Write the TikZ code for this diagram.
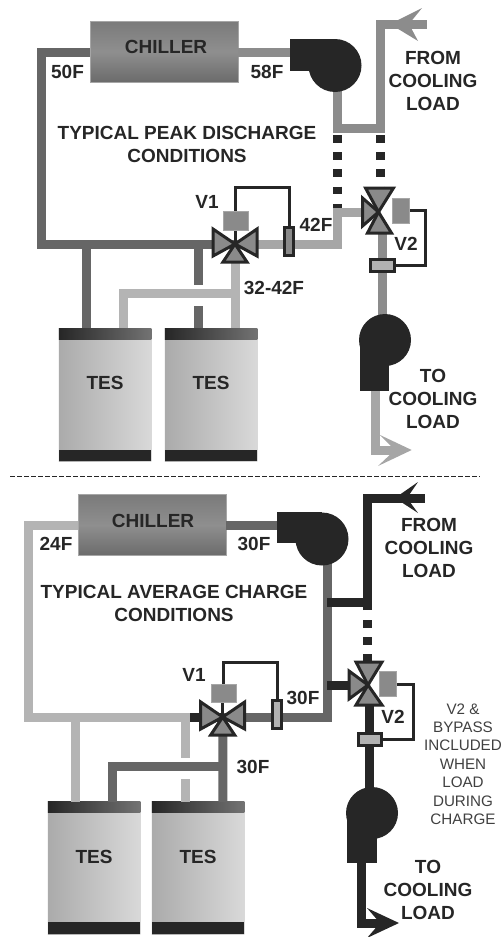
\documentclass[tikz,border=0pt]{standalone}
\usepackage{fontspec}
\setmainfont{Liberation Sans}
\definecolor{ink}{HTML}{262626}
\definecolor{pipeD}{HTML}{666666}
\definecolor{pipeM}{HTML}{8C8C8C}
\definecolor{pipeL}{HTML}{B4B4B4}
\definecolor{pipeN}{HTML}{A6A6A6}
\definecolor{act}{HTML}{8A8A8A}
\tikzset{
  pipe/.style={line width=9pt,line cap=butt,line join=miter,draw=#1},
  dots/.style={line width=9pt,line cap=butt,draw=ink,dash pattern=on 7.5pt off 9.7pt},
  wire/.style={line width=3pt,draw=ink,line join=miter},
  tri/.style={fill=act,draw=ink,line width=3pt,line join=miter},
  actuator/.style={fill=act,draw=black!35,line width=.6pt,inner sep=0pt,minimum width=#1},
  sensor/.style={fill=#1,draw=ink,line width=3pt,inner sep=0pt},
  chillerbox/.style={draw=black!35,line width=.6pt,top color=black!52,bottom color=black!58,middle color=black!44,minimum width=148pt,minimum height=61pt,inner sep=0pt},
  tank/.style={left color=black!33,right color=black!15,minimum width=92.5pt,minimum height=133pt,inner sep=0pt},
  tanktop/.style={left color=black!85,right color=black!55,minimum width=92.5pt,minimum height=11pt,inner sep=0pt},
  tankbase/.style={fill=ink,minimum width=92.5pt,minimum height=11.5pt,inner sep=0pt},
  lab/.style={text=ink,font=\bfseries\fontsize{19}{23}\selectfont,align=center,inner sep=0pt},
  note/.style={text=black!75,font=\fontsize{15.2}{18.4}\selectfont,align=center,inner sep=0pt},
  pumpbody/.style={fill=ink,draw=none}
}
\begin{document}
\begin{tikzpicture}[x=1pt,y=-1pt]
\useasboundingbox (0,0) rectangle (502,937);
% ===== TOP =====
\node[chillerbox] (chA) at (164,51.5) {};
\node[tank] (tA1) at (105,395) {};
\node[tank] (tA2) at (211,395) {};
\node[tanktop] (tA1t) at (105,333.5) {};
\node[tanktop] (tA2t) at (211,333.5) {};
\node[tankbase] (tA1b) at (105,455.7) {};
\node[tankbase] (tA2b) at (211,455.7) {};
\coordinate (vA1) at (235,244);
\coordinate (vA2) at (378.5,212);
\coordinate (pA1) at (335,65.5);
\coordinate (pA2) at (385,340);
\coordinate (jA1) at (337,128);
\coordinate (jA2) at (380,128);
\coordinate (jA3) at (337,212);
\coordinate (jA4) at (337,244);
\coordinate (cA1) at (41,52);
\coordinate (cA2) at (41,244);
\coordinate (cA3) at (380,24);
\coordinate (eA1) at (427,24);
\coordinate (eA2) at (375,450);
\coordinate (eA3) at (400,450);
\coordinate (gA1) at (198,285);
\coordinate (gA2) at (198,306);
\coordinate (bA) at (235,293);
\coordinate (bA2) at (123,293);
\draw[pipe=pipeD] (chA.west |- cA1) -- (cA1) -- (cA2) -- (vA1);
\draw[pipe=pipeD] (86,244) -- (86,328);
\draw[pipe=pipeD] (198,244) -- (gA1);
\draw[pipe=pipeD] (gA2) -- (198,328);
\draw[pipe=pipeM] (chA.east |- cA1) -- (pA1 |- cA1);
\draw[pipe=pipeM] (jA1 |- pA1) -- (jA1) -- (jA2) -- (cA3) -- (eA1);
\draw[dots] (337,135) -- (337,209);
\draw[dots] (380,135) -- (380,190);
\draw[pipe=pipeN] (vA1) -- (jA4) -- (jA3) -- (vA2);
\draw[pipe=pipeL] (vA1) -- (235,328);
\draw[pipe=pipeL] (bA) -- (bA2) -- (123,328);
\draw[pipe=pipeM] (382,233) -- (382,318);
\draw[pipe=pipeN] (eA2 |- pA2) -- (eA2) -- (eA3);
\fill[pipeN] (411.7,450) -- (380,435) -- (395,450) -- (378,466) -- cycle;
\fill[pipeM] (390,24) -- (422,8) -- (409,24) -- (418,41) -- cycle;
% pumps
\fill[pumpbody] (290,39) rectangle (335,70.7);
\fill[pumpbody] (pA1) circle[radius=26.5];
\fill[pumpbody] (360,340) rectangle (389,390.7);
\fill[pumpbody] (pA2) circle[radius=26];
% valves
\draw[tri] (vA1) -- ++(-22,-15) -- ++(0,27) -- cycle;
\draw[tri] (vA1) -- ++(22,-15) -- ++(0,27) -- cycle;
\draw[tri] (vA1) -- ++(-12,18) -- ++(24,0) -- cycle;
\draw[wire] (vA1) -- (235,228);
\draw[wire] (235,212) -- (235,187) -- (289,187) -- (289,228);
\node[actuator=25pt,minimum height=19pt] (aA1) at (235.5,220.5) {};
\node[sensor=act,minimum width=9pt,minimum height=28pt] (sA1) at (289,241.5) {};
\draw[tri] (vA2) -- ++(-16,-14) -- ++(0,28) -- cycle;
\draw[tri] (vA2) -- ++(-13,-24) -- ++(28,0) -- cycle;
\draw[tri] (vA2) -- ++(-11,21) -- ++(24,0) -- cycle;
\node[actuator=17pt,minimum height=25pt] (aA2) at (401,210.5) {};
\node[sensor=black!30,minimum width=24pt,minimum height=12pt] (sA2) at (382.5,265) {};
\draw[wire] (aA2.east) -- (425,210.5) -- (425,265) -- (sA2.east);
% labels
\node[lab] (cl1) at (166,47) {CHILLER};
\node[lab] (l50) at (67.5,72) {50F};
\node[lab] (l58) at (267,72) {58F};
\node[lab] (lf1) at (433,81) {FROM\\COOLING\\LOAD};
\node[lab] (tt1) at (187,144) {TYPICAL PEAK DISCHARGE\\CONDITIONS};
\node[lab] (lv1) at (207,202) {V1};
\node[lab] (l42) at (316,225) {42F};
\node[lab] (lv2) at (406,244) {V2};
\node[lab] (l32) at (274,288) {32-42F};
\node[lab] (te1) at (105,383) {TES};
\node[lab] (te2) at (211,383) {TES};
\node[lab] (lt1) at (433,399) {TO\\COOLING\\LOAD};
% divider
\coordinate (dL) at (10,476.7);
\coordinate (dR) at (480,476.7);
\draw[draw=ink,line width=1pt,dash pattern=on 4.5pt off 2.5pt] (dL) -- (dR);
% ===== BOTTOM =====
\node[chillerbox] (chB) at (152,525) {};
\node[tank] (tB1) at (94,868) {};
\node[tank] (tB2) at (198,868) {};
\node[tanktop] (tB1t) at (94,807) {};
\node[tanktop] (tB2t) at (198,807) {};
\node[tankbase] (tB1b) at (94,928) {};
\node[tankbase] (tB2b) at (198,928) {};
\coordinate (vB1) at (222.7,717);
\coordinate (vB2) at (368,685);
\coordinate (pB1) at (322,539);
\coordinate (pB2) at (372,813);
\coordinate (cB1) at (28,525);
\coordinate (cB2) at (28,717);
\coordinate (cB3) at (367,498);
\coordinate (eB1) at (425,498);
\coordinate (jB1) at (327,602);
\coordinate (jB2) at (367,602);
\coordinate (jB3) at (327,717);
\draw[pipe=pipeL] (chB.west |- cB1) -- (cB1) -- (cB2) -- (190,717);
\draw[pipe=pipeL] (75,717) -- (75,802);
\draw[pipe=pipeL] (185,717) -- (185,758);
\draw[pipe=pipeL] (185,779) -- (185,802);
\draw[pipe=ink] (190,717) -- (vB1);
\draw[pipe=pipeD] (chB.east |- cB1) -- (pB1 |- cB1);
\draw[pipe=pipeD] (327,560) -- (jB3) -- (vB1);
\draw[pipe=pipeD] (vB1) -- (223,802);
\draw[pipe=pipeD] (223,766) -- (112,766) -- (112,802);
\draw[pipe=ink] (jB1) -- (jB2);
\draw[pipe=ink] (367,610) -- (cB3) -- (eB1);
\draw[dots] (367,620) -- (367,664);
\draw[pipe=ink] (327,685) -- (vB2);
\draw[pipe=ink] (369,705) -- (369,792);
\draw[pipe=ink] (361.7,860) -- (361.7,923) -- (385,923);
\fill[ink] (399,923) -- (367,908) -- (380,923) -- (367,938) -- cycle;
\fill[ink] (395,498) -- (418,482) -- (407,498) -- (418,513) -- cycle;
% pumps
\fill[pumpbody] (277,512) rectangle (322,543);
\fill[pumpbody] (pB1) circle[radius=26.5];
\fill[pumpbody] (347,813) rectangle (377,863);
\fill[pumpbody] (pB2) circle[radius=26];
% valves
\draw[tri] (vB1) -- ++(-22,-15) -- ++(0,27) -- cycle;
\draw[tri] (vB1) -- ++(22,-15) -- ++(0,27) -- cycle;
\draw[tri] (vB1) -- ++(-12,18) -- ++(24,0) -- cycle;
\draw[wire] (vB1) -- (222.7,702);
\draw[wire] (223,685) -- (223,662) -- (277,662) -- (277,700);
\node[actuator=25pt,minimum height=18pt] (aB1) at (223.5,693.5) {};
\node[sensor=black!30,minimum width=9pt,minimum height=28pt] (sB1) at (277,714.5) {};
\draw[tri] (vB2) -- ++(-19,-14) -- ++(0,28) -- cycle;
\draw[tri] (vB2) -- ++(-12,-23) -- ++(26,0) -- cycle;
\draw[tri] (vB2) -- ++(-12,20) -- ++(26,0) -- cycle;
\node[actuator=17pt,minimum height=25pt] (aB2) at (388,684) {};
\node[sensor=black!30,minimum width=23pt,minimum height=12pt] (sB2) at (369.5,739) {};
\draw[wire] (aB2.east) -- (413,684) -- (413,739) -- (sB2.east);
% labels
\node[lab] (cl2) at (153,521) {CHILLER};
\node[lab] (l24) at (56,544) {24F};
\node[lab] (l30a) at (254,544) {30F};
\node[lab] (lf2) at (429,548) {FROM\\COOLING\\LOAD};
\node[lab] (tt2) at (174,603) {TYPICAL AVERAGE CHARGE\\CONDITIONS};
\node[lab] (lv3) at (194,675) {V1};
\node[lab] (l30b) at (303,698) {30F};
\node[lab] (lv4) at (393,717) {V2};
\node[lab] (l30c) at (253,767) {30F};
\node[lab] (te3) at (94,857) {TES};
\node[lab] (te4) at (198,857) {TES};
\node[lab] (lt2) at (428,890) {TO\\COOLING\\LOAD};
\node[note] (nt) at (463,764) {V2 \&\\BYPASS\\INCLUDED\\WHEN\\LOAD\\DURING\\CHARGE};
\end{tikzpicture}
\end{document}
